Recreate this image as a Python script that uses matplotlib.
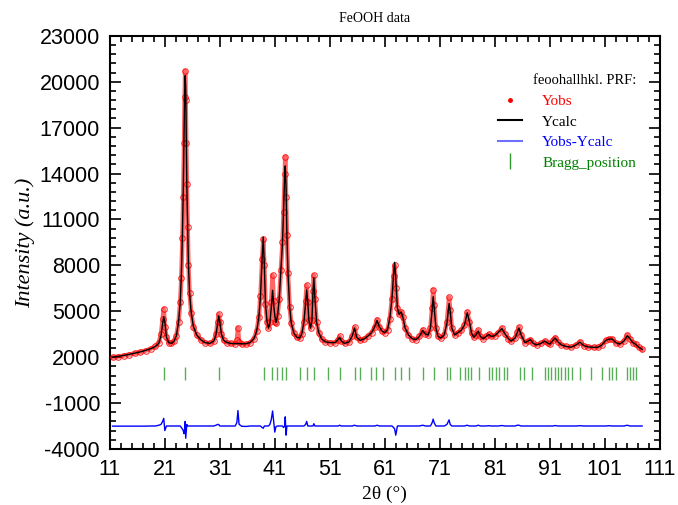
import numpy as np
import matplotlib
matplotlib.use("Agg")
import matplotlib.pyplot as plt
from matplotlib.lines import Line2D

plt.rcParams['axes.unicode_minus'] = False

two_theta = [
    11.5, 12.5, 13.5, 14.5, 15.5, 16.5, 17.5, 18.5, 19.3, 19.9,
    20.3, 20.6, 20.8, 21.0, 21.3, 21.7, 22.2, 22.7, 23.1, 23.5,
    23.8, 24.0, 24.2, 24.35, 24.5, 24.6, 24.7, 24.8, 24.9, 25.0,
    25.15, 25.3, 25.5, 25.8, 26.2, 26.8, 27.5, 28.3, 29.2, 29.9,
    30.3, 30.6, 30.8, 31.0, 31.3, 31.7, 32.3, 33.0, 33.8, 34.1,
    34.3, 34.5, 35.0, 35.8, 36.5, 37.2, 37.7, 38.1, 38.4, 38.7,
    38.9, 39.1, 39.3, 39.6, 39.85, 40.1, 40.35, 40.6, 40.8, 41.0,
    41.2, 41.5, 41.8, 42.1, 42.4, 42.6, 42.8, 42.9, 43.05, 43.2,
    43.4, 43.7, 44.0, 44.5, 45.0, 45.5, 45.9, 46.3, 46.6, 46.8,
    47.0, 47.2, 47.5, 47.75, 47.95, 48.1, 48.3, 48.6, 49.0, 49.5,
    50.2, 51.0, 52.0, 52.5, 52.8, 53.1, 53.7, 54.5, 55.1, 55.5,
    55.9, 56.5, 57.3, 58.0, 58.6, 59.2, 59.6, 60.0, 60.5, 61.0,
    61.5, 61.9, 62.3, 62.6, 62.8, 63.0, 63.3, 63.6, 64.0, 64.3,
    64.7, 65.3, 66.0, 66.7, 67.3, 67.9, 68.4, 68.9, 69.3, 69.6,
    69.8, 70.0, 70.3, 70.7, 71.2, 71.8, 72.3, 72.7, 72.9, 73.2,
    73.7, 74.3, 74.9, 75.5, 76.0, 76.4, 76.8, 77.2, 77.6, 78.0,
    78.4, 78.9, 79.4, 79.9, 80.4, 81.0, 81.6, 82.3, 82.9, 83.5,
    84.0, 84.7, 85.1, 85.4, 85.8, 86.5, 87.1, 87.5, 88.0, 88.6,
    89.4, 90.1, 90.6, 91.0, 91.6, 92.0, 92.5, 93.1, 94.0, 94.9,
    95.8, 96.5, 97.2, 98.0, 99.0, 99.8, 100.5, 101.2, 101.8, 102.4,
    103.0, 103.7, 104.5, 105.1, 105.6, 106.1, 106.6, 107.2, 107.8,
]

y_obs = [
    1980, 2040, 2100, 2170, 2250, 2330, 2430, 2560, 2700, 2950,
    3500, 4500, 5150, 4000, 3300, 2950, 2900, 3050, 3400, 4300,
    5600, 7200, 9800, 12500, 16000, 19000, 20700, 18800, 16000, 13300,
    10500, 8000, 6200, 4900, 4000, 3450, 3150, 2950, 2900, 3050,
    3500, 4300, 4800, 4300, 3500, 3100, 2950, 2900, 2880, 3100,
    3900, 3000, 2850, 2850, 2950, 3200, 3700, 4600, 6000, 8400,
    9700, 8000, 5500, 4300, 3900, 4300, 5600, 7350, 5700, 4300,
    4200, 4700, 5800, 7700, 9500, 11500, 14000, 15100, 12500, 10000,
    7500, 5300, 4200, 3550, 3300, 3250, 3500, 4300, 5700, 6700,
    5600, 4400, 3900, 4400, 6300, 7350, 5800, 4300, 3600, 3200,
    3000, 2950, 2950, 3150, 3350, 3050, 2900, 3000, 3400, 3950,
    3300, 3100, 3200, 3400, 3600, 4000, 4450, 4000, 3700, 3600,
    3800, 4500, 5800, 7300, 8000, 6500, 5200, 4800, 4950, 4600,
    3900, 3450, 3200, 3150, 3350, 3800, 3500, 3450, 3900, 5200,
    6400, 5400, 3900, 3350, 3250, 3450, 4300, 5900, 5100, 3900,
    3450, 3600, 3750, 4100, 4950, 4300, 3550, 3300, 3450, 3750,
    3350, 3200, 3350, 3500, 3350, 3400, 3600, 3900, 3500, 3200,
    3050, 3250, 3650, 3950, 3450, 2950, 3050, 3150, 2900, 2800,
    2900, 3050, 2920, 2850, 3100, 3280, 3000, 2800, 2700, 2650,
    2800, 3000, 2750, 2670, 2640, 2650, 2800, 3100, 3200, 3180,
    2950, 2850, 3050, 3450, 3200, 2950, 2850, 2650, 2500,
]

y_calc = [
    1990, 2050, 2110, 2180, 2260, 2340, 2440, 2560, 2700, 2900,
    3400, 4200, 4650, 4300, 3300, 2950, 2900, 3050, 3400, 4300,
    5600, 7300, 10000, 12800, 16500, 19200, 20400, 19600, 16300, 13200,
    10500, 8000, 6200, 4900, 4000, 3450, 3150, 2950, 2900, 3050,
    3450, 4200, 4700, 4300, 3500, 3100, 2950, 2900, 2880, 2880,
    2890, 2890, 2870, 2880, 2950, 3200, 3700, 4600, 6000, 8500,
    9850, 8000, 5500, 4300, 3900, 4200, 5200, 6370, 5400, 4700,
    4250, 4700, 5800, 7700, 9500, 11600, 14000, 14500, 13100, 10000,
    7500, 5300, 4200, 3550, 3300, 3250, 3500, 4300, 5600, 6400,
    5600, 4400, 3900, 4400, 6300, 7200, 5800, 4300, 3600, 3200,
    3000, 2950, 2950, 3150, 3300, 3050, 2900, 3000, 3400, 3900,
    3300, 3100, 3200, 3400, 3600, 4000, 4400, 4000, 3700, 3600,
    3800, 4500, 5800, 7400, 8200, 7100, 5200, 4800, 4950, 4600,
    3900, 3450, 3200, 3150, 3350, 3750, 3500, 3450, 3900, 5000,
    5950, 5200, 3900, 3350, 3250, 3450, 4200, 5500, 5000, 3900,
    3450, 3600, 3750, 4100, 4900, 4300, 3550, 3300, 3450, 3700,
    3350, 3200, 3350, 3480, 3350, 3400, 3600, 3870, 3500, 3200,
    3050, 3250, 3600, 3900, 3450, 2950, 3050, 3150, 2900, 2800,
    2900, 3050, 2920, 2850, 3100, 3250, 3000, 2800, 2700, 2650,
    2800, 2980, 2750, 2670, 2640, 2650, 2800, 3100, 3180, 3180,
    2950, 2850, 3050, 3400, 3200, 2950, 2850, 2650, 2500,
]

bragg_pos = [
    20.76, 24.69, 30.82, 38.95, 40.58, 41.42, 42.22, 42.95, 45.67, 46.82,
    48.15, 50.69, 52.93, 55.67, 56.45, 58.58, 59.49, 60.6, 62.82, 64.04,
    65.36, 67.96, 69.96, 72.4, 72.82, 74.64, 75.55, 76.15, 76.76, 78.15,
    79.96, 80.58, 81.18, 81.78, 82.64, 83.31, 85.55, 86.27, 87.85, 90.09,
    90.69, 91.3, 91.91, 92.51, 93.12, 93.73, 94.33, 95.13, 96.45, 98.58,
    100.58, 101.78, 102.4, 103.0, 105.05, 105.67, 106.15, 106.76,
]

x_ticks = [11, 21, 31, 41, 51, 61, 71, 81, 91, 101, 111]
y_ticks = [-4000, -1000, 2000, 5000, 8000, 11000, 14000, 17000, 20000, 23000]

diff_offset = -2500
bragg_low, bragg_high = 500, 1350

x = np.array(two_theta)
yo = np.array(y_obs)
yc = np.array(y_calc)
diff = yo - yc + diff_offset

fig = plt.figure(figsize=(6.78, 5.05), dpi=100)
ax = fig.add_axes([0.162, 0.111, 0.811, 0.818])

ax.plot(x, yo, color='red', lw=3.2, alpha=0.6, zorder=2)
ax.plot(x, yo, ls='none', marker='o', ms=4, mfc='none', mec='red',
        mew=0.8, alpha=0.8, zorder=3)
ax.plot(x, yc, color='black', lw=1.0, zorder=4)
ax.plot(x, diff, color='blue', lw=1.0, zorder=3)
ax.vlines(bragg_pos, bragg_low, bragg_high, color='#2e9a2e', lw=1.0,
          alpha=0.8, zorder=2)

ax.set_xlim(11, 111)
ax.set_ylim(-4000, 23000)
ax.set_xticks(x_ticks)
ax.set_xticks(np.arange(11, 112, 2), minor=True)
ax.set_yticks(y_ticks)
ax.set_yticks(np.arange(-4000, 23001, 600), minor=True)
ax.tick_params(which='both', direction='in', top=True, right=True, width=1.2)
ax.tick_params(which='major', length=8, labelsize=15.5, pad=7)
ax.tick_params(which='minor', length=4.5)
for lab in ax.get_xticklabels() + ax.get_yticklabels():
    lab.set_fontfamily('Liberation Sans')
for s in ax.spines.values():
    s.set_linewidth(1.5)

ax.set_xlabel('2θ (°)', fontfamily='Liberation Serif', fontsize=14, labelpad=4)
ax.set_ylabel('Intensity (a.u.)', fontfamily='Liberation Serif',
              fontstyle='italic', fontsize=16, labelpad=3)
fig.text(0.553, 0.964, 'FeOOH data', fontfamily='Liberation Serif',
         fontsize=10, ha='center', va='center')

handles = [
    Line2D([], [], ls='none', marker='o', ms=2.5, color='red'),
    Line2D([], [], color='black', lw=1.5),
    Line2D([], [], color='#7070ff', lw=1.5),
    Line2D([], [], ls='none', marker='|', ms=11, color='#2e9a2e', mew=1),
]
leg = ax.legend(handles, ['Yobs', 'Ycalc', 'Yobs-Ycalc', 'Bragg_position'],
                title='feoohallhkl. PRF:', frameon=False,
                loc='upper right', bbox_to_anchor=(0.982, 0.94),
                handlelength=1.6, handletextpad=1.3, labelspacing=0.45,
                prop={'family': 'Liberation Serif', 'size': 11},
                labelcolor=['red', 'black', 'blue', 'green'])
leg.get_title().set_fontfamily('Liberation Serif')
leg.get_title().set_fontsize(10.5)
leg._legend_box.align = 'right'

fig.savefig('out.png', dpi=100)
